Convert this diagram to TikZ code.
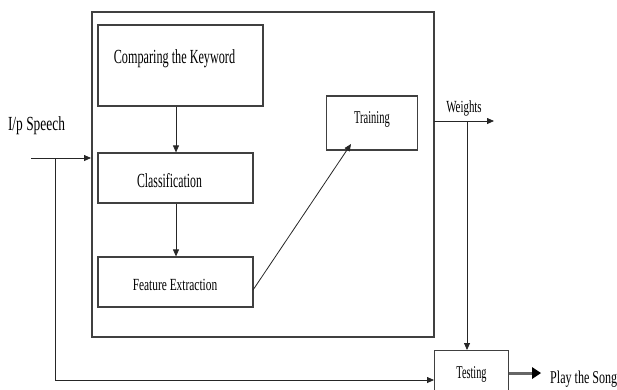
\documentclass[tikz,border=0pt]{standalone}
\usepackage{fontspec}
\usepackage{graphicx}
\setmainfont{Liberation Serif}
\usetikzlibrary{arrows.meta}
\newcommand{\sqz}[3]{\fontsize{#1}{#1}\selectfont\scalebox{#2}[1]{#3}}
\begin{document}
\begin{tikzpicture}[x=1pt,y=-1pt,
  box/.style={draw=black!75,line width=1.2pt},
  conn/.style={draw=black!85,line width=0.8pt},
  arr/.style={conn,-{Triangle[length=7pt,width=6pt]}},
  lbl/.style={inner sep=0pt,anchor=base}]
\useasboundingbox (0,0) rectangle (617,389);
\clip (0,0) rectangle (617,389);
% outer box
\draw[box] (92,12) rectangle (434,337);
\node[box,minimum width=165pt,minimum height=81pt,inner sep=0pt] (cmp) at (180.5,65.5) {};
\node[lbl] at (174.5,63) {\sqz{20}{0.61}{Comparing the Keyword}};
\node[box,minimum width=155pt,minimum height=50pt,inner sep=0pt] (cls) at (175.5,178) {};
\node[lbl] at (169.5,187) {\sqz{20}{0.59}{Classification}};
\node[box,minimum width=155pt,minimum height=50pt,inner sep=0pt] (fe) at (175.5,282) {};
\node[lbl] at (175,290) {\sqz{17}{0.67}{Feature Extraction}};
\node[box,minimum width=91pt,minimum height=54pt,inner sep=0pt] (tr) at (372,123) {};
\node[lbl] at (372,123) {\sqz{18}{0.58}{Training}};
\node[box,minimum width=74pt,minimum height=60pt,inner sep=0pt,anchor=north west] (ts) at (434,350) {};
\node[lbl] at (471.5,378) {\sqz{18}{0.57}{Testing}};
% labels
\node[lbl] (ip) at (36.5,130) {\sqz{20}{0.67}{I/p Speech}};
\node[lbl] (wt) at (464,112) {\sqz{17}{0.64}{Weights}};
\node[lbl,anchor=base west] (play) at (550,383) {\sqz{18}{0.67}{Play the Song}};
% coordinates
\coordinate (in0) at (31,158);
\coordinate (in1) at (91,158);
\coordinate (br) at (55,158);
\coordinate (bl) at (55,380);
\coordinate (w0) at (434,121);
\coordinate (w1) at (494,121);
\coordinate (wv) at (467,121);
\coordinate (fo) at (253,290);
\coordinate (ti) at (351,144);
% connectors
\draw[arr] (cmp.south -| 176,0) -- (cls.north -| 176,0);
\draw[arr] (cls.south -| 176,0) -- (fe.north -| 176,0);
\draw[arr] (fo) -- (ti);
\draw[arr] (in0) -- (in1);
\draw[conn] (br) -- (bl);
\draw[arr] (bl) -- (ts.west |- bl);
\draw[arr] (w0) -- (w1);
\draw[arr] (wv) -- (ts.north -| wv);
\draw[draw=black!60,line width=3pt] (ts.east |- 0,373) -- (532,373);
\fill[black] (532,367) -- (541,373) -- (532,379) -- cycle;
\end{tikzpicture}
\end{document}
